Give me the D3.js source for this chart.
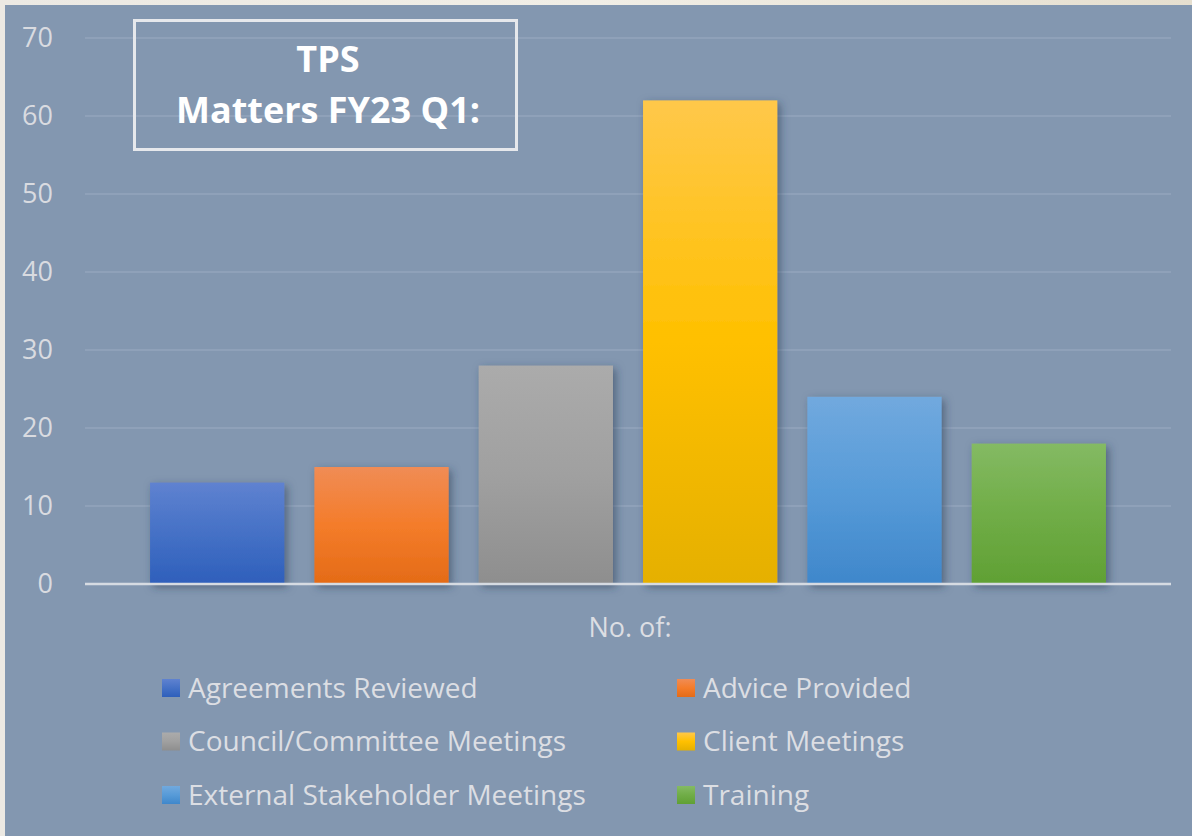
<!DOCTYPE html>
<html>
<head>
<meta charset="utf-8">
<script src="https://cdn.jsdelivr.net/npm/d3@7"></script>
<style>
  html, body { margin: 0; padding: 0; background: #e9e5dd; }
  svg { display: block; }
</style>
</head>
<body>
<svg id="chart"></svg>
<script>
// chart values
const series = ["Agreements Reviewed", "Advice Provided", "Council/Committee Meetings",
  "Client Meetings", "External Stakeholder Meetings", "Training"];
const counts = [13, 15, 28, 62, 24, 18];
const yTicks = [0, 10, 20, 30, 40, 50, 60, 70];
const titleLines = ["TPS", "Matters FY23 Q1:"];
const axisTitle = "No. of:";

// gradient stops per series (top, middle, bottom)
const colors = [
  ["#5f82d0", "#4571c6", "#2e5fbb"],
  ["#f08c55", "#f47c2a", "#e46b17"],
  ["#ababab", "#a0a0a0", "#8e8e8e"],
  ["#ffc84a", "#ffc000", "#e5b000"],
  ["#71a9de", "#579bd8", "#3f87cb"],
  ["#84ba63", "#70ad47", "#60a034"]
];

const W = 1192, H = 836;
const margin = { top: 38, right: 21, bottom: 252, left: 85 };

const svg = d3.select("#chart").attr("width", W).attr("height", H);
const defs = svg.append("defs");

// soft textured-looking outer frame
const frame = defs.append("linearGradient").attr("id", "frame")
  .attr("x1", 0).attr("y1", 0).attr("x2", 1).attr("y2", 0);
frame.append("stop").attr("offset", 0).attr("stop-color", "#ece9e3");
frame.append("stop").attr("offset", 0.5).attr("stop-color", "#f1eee6");
frame.append("stop").attr("offset", 1).attr("stop-color", "#e6dfcf");
svg.append("rect").attr("width", W).attr("height", H).attr("fill", "url(#frame)");

// chart panel
svg.append("rect").attr("x", 5).attr("y", 5).attr("width", W - 5).attr("height", H - 5)
  .attr("fill", "#8397b0");

colors.forEach((c, i) => {
  const g = defs.append("linearGradient").attr("id", "grad" + i)
    .attr("x1", 0).attr("y1", 0).attr("x2", 0).attr("y2", 1);
  g.append("stop").attr("offset", 0).attr("stop-color", c[0]);
  g.append("stop").attr("offset", 0.5).attr("stop-color", c[1]);
  g.append("stop").attr("offset", 1).attr("stop-color", c[2]);
});

const shadow = defs.append("filter").attr("id", "shadow")
  .attr("x", "-20%").attr("y", "-20%").attr("width", "140%").attr("height", "140%");
shadow.append("feDropShadow").attr("dx", 3).attr("dy", 3).attr("stdDeviation", 4)
  .attr("flood-color", "#2b3a52").attr("flood-opacity", 0.55);

const plotW = W - margin.left - margin.right;
const plotH = H - margin.top - margin.bottom;

const g = svg.append("g").attr("transform", `translate(${margin.left},${margin.top})`);

const y = d3.scaleLinear().domain([0, 70]).range([plotH, 0]);
const x = d3.scaleBand().domain(series).range([0, plotW])
  .paddingInner(0.183).paddingOuter(0.396);

// gridlines
g.append("g").selectAll("line").data(yTicks.filter(d => d > 0)).join("line")
  .attr("x1", 0).attr("x2", plotW)
  .attr("y1", d => y(d)).attr("y2", d => y(d))
  .attr("stroke", "#93a5bc").attr("stroke-width", 1.5);

// y axis labels
const yAxis = g.append("g").call(d3.axisLeft(y).tickValues(yTicks).tickSize(0).tickPadding(32));
yAxis.select(".domain").remove();
yAxis.selectAll("text")
  .attr("fill", "#d9dbe0")
  .style("font-family", "'Open Sans', sans-serif")
  .style("font-size", "27px");

// bars
g.append("g").selectAll("rect").data(series).join("rect")
  .attr("x", d => x(d))
  .attr("y", (d, i) => y(counts[i]))
  .attr("width", x.bandwidth())
  .attr("height", (d, i) => y(0) - y(counts[i]))
  .attr("fill", (d, i) => `url(#grad${i})`)
  .attr("filter", "url(#shadow)");

// baseline
g.append("line").attr("x1", 0).attr("x2", plotW)
  .attr("y1", y(0)).attr("y2", y(0))
  .attr("stroke", "#d6dbe2").attr("stroke-width", 2.5);

// axis title
g.append("text")
  .attr("x", plotW / 2 + 2).attr("y", plotH + 53)
  .attr("text-anchor", "middle")
  .attr("fill", "#dcdee3")
  .style("font-family", "'Open Sans', sans-serif")
  .style("font-size", "27px")
  .text(axisTitle);

// title box
svg.append("rect").attr("x", 134.5).attr("y", 20.5).attr("width", 382).attr("height", 129)
  .attr("fill", "none").attr("stroke", "#e6e8ec").attr("stroke-width", 3);
svg.append("g").selectAll("text").data(titleLines).join("text")
  .attr("x", 328).attr("y", (d, i) => 72 + i * 51)
  .attr("text-anchor", "middle")
  .attr("fill", "#ffffff")
  .style("font-family", "'Open Sans', sans-serif")
  .style("font-weight", "bold")
  .style("font-size", "36px")
  .text(d => d);

// legend
const legend = svg.append("g");
const items = legend.selectAll("g").data(series).join("g")
  .attr("transform", (d, i) => `translate(${i % 2 === 0 ? 162 : 677},${688 + Math.floor(i / 2) * 53.5})`);
items.append("rect")
  .attr("x", 0).attr("y", -9).attr("width", 18).attr("height", 18)
  .attr("fill", (d, i) => `url(#grad${i})`);
items.append("text")
  .attr("x", 26).attr("y", 0).attr("dy", "0.35em")
  .attr("fill", "#dcdee3")
  .style("font-family", "'Open Sans', sans-serif")
  .style("font-size", "28px")
  .text(d => d);
</script>
</body>
</html>
